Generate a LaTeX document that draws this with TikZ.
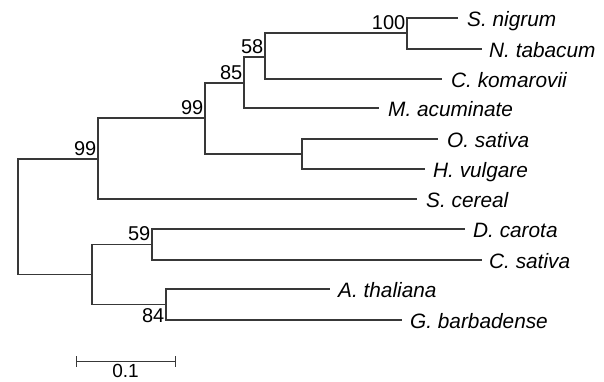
\documentclass[tikz,border=0pt]{standalone}
\usepackage{fontspec}
\setmainfont{Liberation Sans}
\begin{document}
\begin{tikzpicture}[x=1pt,y=-1pt,
  br/.style={draw=black!78,line width=1.2pt},
  taxon/.style={anchor=base west,inner sep=0pt,font=\fontsize{20.8}{23}\selectfont\itshape},
  bsup/.style={anchor=south east,inner xsep=1.5pt,inner ysep=3.5pt,font=\fontsize{20}{22}\selectfont},
  bsdown/.style={anchor=north east,inner xsep=1.5pt,inner ysep=3.5pt,font=\fontsize{20}{22}\selectfont}]
\useasboundingbox (0,0) rectangle (604,381);
% internal nodes
\coordinate (root) at (18,217);
\coordinate (nA) at (98,159);
\coordinate (nB) at (205,118);
\coordinate (nC) at (244,83);
\coordinate (nD) at (265,57);
\coordinate (nE) at (407,33);
\coordinate (nOH) at (302,154);
\coordinate (nF) at (92,274.5);
\coordinate (nG) at (152,244.5);
\coordinate (nH) at (166,304.5);
% tips
\coordinate (snig) at (458,18);
\coordinate (ntab) at (482,49);
\coordinate (ckom) at (442,79);
\coordinate (macu) at (379,108);
\coordinate (osat) at (438,139);
\coordinate (hvul) at (425,169);
\coordinate (scer) at (417,199);
\coordinate (dcar) at (465,229);
\coordinate (csat) at (482,260);
\coordinate (atha) at (330,289);
\coordinate (gbar) at (402,320);
% branches
\draw[br] (root) |- (nA);
\draw[br] (root) |- (nF);
\draw[br] (nA) |- (nB);
\draw[br] (nA) |- (scer);
\draw[br] (nB) |- (nC);
\draw[br] (nB) |- (nOH);
\draw[br] (nC) |- (nD);
\draw[br] (nC) |- (macu);
\draw[br] (nD) |- (nE);
\draw[br] (nD) |- (ckom);
\draw[br] (nE) |- (snig);
\draw[br] (nE) |- (ntab);
\draw[br] (nOH) |- (osat);
\draw[br] (nOH) |- (hvul);
\draw[br] (nF) |- (nG);
\draw[br] (nF) |- (nH);
\draw[br] (nG) |- (dcar);
\draw[br] (nG) |- (csat);
\draw[br] (nH) |- (atha);
\draw[br] (nH) |- (gbar);
% taxon labels
\node[taxon] (lsnig) at ([shift={(9,8.5)}]snig) {S. nigrum};
\node[taxon] (lntab) at ([shift={(7,8.5)}]ntab) {N. tabacum};
\node[taxon] (lckom) at ([shift={(9,8.5)}]ckom) {C. komarovii};
\node[taxon] (lmacu) at ([shift={(9,8.5)}]macu) {M. acuminate};
\node[taxon] (losat) at ([shift={(9,8.5)}]osat) {O. sativa};
\node[taxon] (lhvul) at ([shift={(8,8.5)}]hvul) {H. vulgare};
\node[taxon] (lscer) at ([shift={(9,8.5)}]scer) {S. cereal};
\node[taxon] (ldcar) at ([shift={(8,8.5)}]dcar) {D. carota};
\node[taxon] (lcsat) at ([shift={(7,8.5)}]csat) {C. sativa};
\node[taxon] (latha) at ([shift={(8,8.5)}]atha) {A. thaliana};
\node[taxon] (lgbar) at ([shift={(8,8.5)}]gbar) {G. barbadense};
% bootstrap values
\node[bsup] (bE) at (nE) {100};
\node[bsup] (bD) at (nD) {58};
\node[bsup] (bC) at (nC) {85};
\node[bsup] (bB) at (nB) {99};
\node[bsup] (bA) at (nA) {99};
\node[bsup] (bG) at (nG) {59};
\node[bsdown] (bH) at (nH) {84};
% scale bar
\coordinate (sb1) at (76,361);
\coordinate (sb2) at (175,361);
\draw[br,line width=1pt] (sb1) -- (sb2);
\draw[br,line width=1pt] ([yshift=-5.5]sb1) -- ([yshift=5.5]sb1);
\draw[br,line width=1pt] ([yshift=-5.5]sb2) -- ([yshift=5.5]sb2);
\node[anchor=base,inner sep=0pt,font=\fontsize{19}{22}\selectfont] (sbl) at (125.5,377) {0.1};
\end{tikzpicture}
\end{document}
